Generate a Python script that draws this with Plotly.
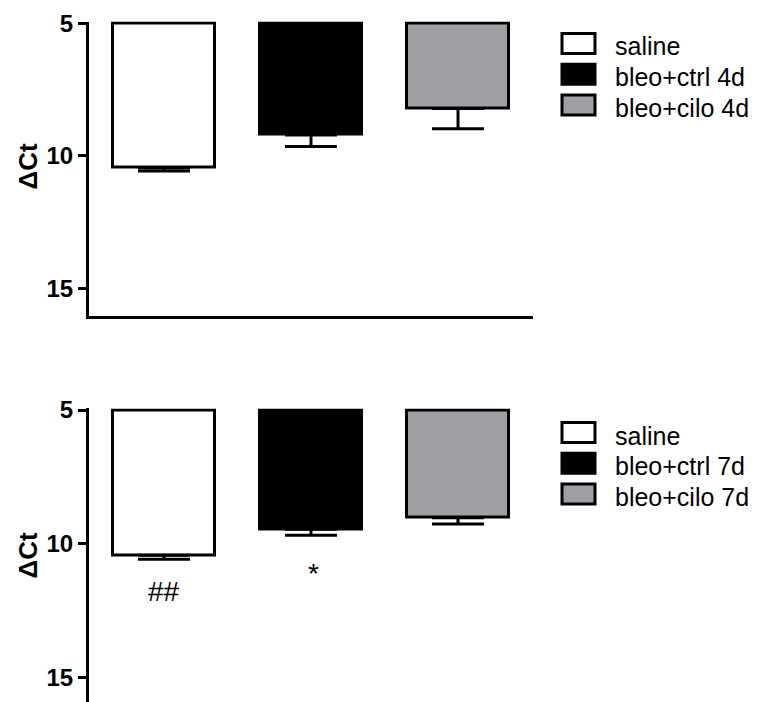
import plotly.graph_objects as go

W, H = 768, 702
FONT = "Liberation Sans, Arial, sans-serif"

# ---- data -------------------------------------------------------------
positions = [0, 1, 2]
labels_4d = ["saline", "bleo+ctrl 4d", "bleo+cilo 4d"]
labels_7d = ["saline", "bleo+ctrl 7d", "bleo+cilo 7d"]
dct_4d = [10.45, 9.22, 8.22]
sem_4d = [0.13, 0.43, 0.76]
dct_7d = [10.43, 9.46, 9.03]
sem_7d = [0.15, 0.22, 0.23]
fills = ["#ffffff", "#000000", "#a0a0a4"]
sig_marks_7d = ["##", "*"]
sig_x_7d = [0, 1.02]
sig_y_7d = [11.77, 11.13]
y_ticks = [5, 10, 15]
BASE = 5


def px(x):
    return x / W


def py(y):
    return 1 - y / H


fig = go.Figure()

for xa, ya, vals, errs in [("x", "y", dct_4d, sem_4d), ("x2", "y2", dct_7d, sem_7d)]:
    fig.add_trace(go.Bar(
        x=positions,
        y=[v - BASE for v in vals],
        base=BASE,
        width=0.69,
        marker=dict(color=fills, line=dict(color="black", width=3)),
        error_y=dict(type="data", symmetric=False, array=errs,
                     arrayminus=[0] * len(errs), color="black",
                     thickness=3, width=26),
        xaxis=xa, yaxis=ya, showlegend=False, hoverinfo="skip",
    ))

axis_common = dict(showgrid=False, zeroline=False, linecolor="black",
                   linewidth=3, automargin=False)
yaxis_common = dict(
    axis_common, showline=True, ticks="outside", ticklen=8, tickwidth=3,
    tickcolor="black", tickvals=y_ticks,
    tickfont=dict(family=FONT, size=24, color="black", weight="bold"),
)

x_dom = [px(89), px(533)]
fig.update_layout(
    width=W, height=H,
    margin=dict(l=0, r=0, t=0, b=0),
    paper_bgcolor="white", plot_bgcolor="white",
    bargap=0,
    xaxis=dict(axis_common, domain=x_dom, range=[-0.51, 2.51], showline=True,
               showticklabels=False, ticks="", anchor="y"),
    yaxis=dict(yaxis_common, domain=[py(315.6), py(21.6)], range=[16.03, 4.94],
               anchor="x"),
    xaxis2=dict(axis_common, domain=x_dom, range=[-0.51, 2.51], showline=False,
                showticklabels=False, ticks="", anchor="y2"),
    yaxis2=dict(yaxis_common, domain=[0, py(408.4)], range=[15.92, 4.94],
                anchor="x2"),
)

# axis titles
for yc in [167, 556]:
    fig.add_annotation(
        x=px(27.5), y=py(yc), xref="paper", yref="paper",
        text="ΔCt", textangle=-90, showarrow=False,
        font=dict(family=FONT, size=26, color="black", weight="bold"),
        xanchor="center", yanchor="middle",
    )

# significance marks under the 7d bars
for t, xv, yv in zip(sig_marks_7d, sig_x_7d, sig_y_7d):
    fig.add_annotation(
        x=xv, y=yv, xref="x2", yref="y2", text=t, showarrow=False,
        font=dict(family=FONT, size=28, color="black"),
        xanchor="center", yanchor="middle",
    )

# legends drawn as boxes and labels
for labels, rows in [(labels_4d, [43.5, 74.3, 105.1]), (labels_7d, [432.5, 463.3, 494.1])]:
    for lab, fill, rc in zip(labels, fills, rows):
        fig.add_shape(
            type="rect", xref="paper", yref="paper",
            x0=px(562), x1=px(595), y0=py(rc + 10), y1=py(rc - 10),
            fillcolor=fill, line=dict(color="black", width=3),
        )
        fig.add_annotation(
            x=px(613), y=py(rc + 3), xref="paper", yref="paper",
            text=lab, showarrow=False, xanchor="left", yanchor="middle",
            font=dict(family=FONT, size=25, color="black"),
        )

fig.write_html("out.html")
